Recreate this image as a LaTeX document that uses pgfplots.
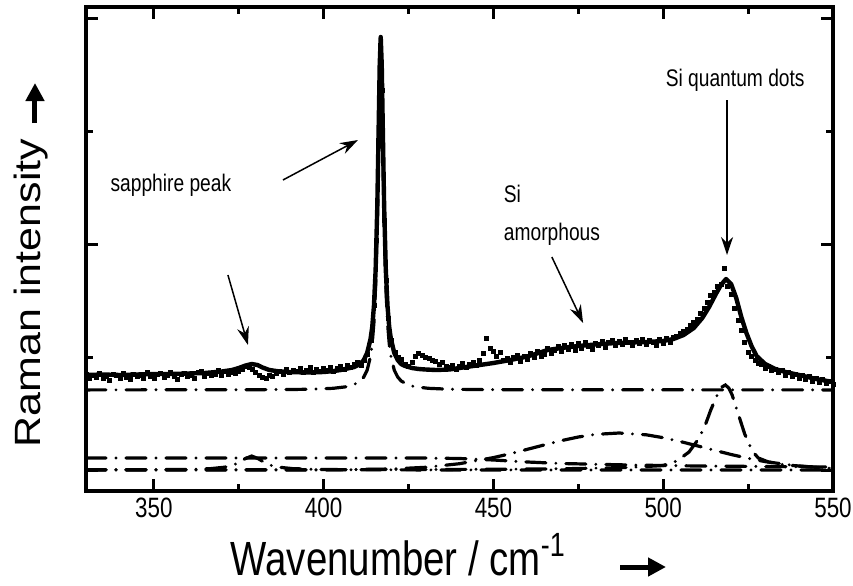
\documentclass[border=0pt]{standalone}
\usepackage{fontspec}
\setmainfont{Liberation Sans}
\newfontfamily\nsans[FakeStretch=0.8]{Liberation Sans}
\usepackage{pgfplots}
\pgfplotsset{compat=1.18}
\usetikzlibrary{arrows.meta}

\pgfplotstableread{
v y
330 96
331 92
332 95
333 93
334 97
335 92
336 94
337 90
338 96
339 95
340 92
341 97
342 93
343 91
344 96
345 94
346 95
347 92
348 98
349 94
350 92
351 96
352 97
353 93
354 95
355 98
356 94
357 91
358 96
359 97
360 94
361 95
362 92
363 98
364 99
365 94
366 97
367 95
368 96
369 100
370 95
371 99
372 96
373 98
374 97
375 99
376 101
377 104
378 103
379 101
380 98
381 95
382 93
383 92
384 95
385 94
386 97
387 99
388 96
389 101
390 98
391 100
392 99
393 102
394 98
395 100
396 103
397 98
398 101
399 99
400 102
401 100
402 103
403 99
404 102
405 104
406 101
407 105
408 103
409 106
410 108
411 105
412 110
413 116
414 130
415 165
415.6 230
416.2 330
416.7 425
417.2 380
417.8 250
418.4 190
419 152
420 130
421 118
422 113
423 111
424 106
425 104
426 108
427 114
428 117
429 115
430 113
431 112
432 110
433 109
434 106
435 108
436 104
437 103
438 105
439 101
440 104
441 107
442 103
443 106
444 108
445 105
446 110
447 117
448 132
449 122
450 119
451 114
452 118
453 110
454 112
455 108
456 113
457 115
458 109
459 114
460 111
461 117
462 113
463 119
464 114
465 116
466 122
467 117
468 120
469 124
470 119
471 125
472 121
473 126
474 120
475 127
476 122
477 128
478 124
479 121
480 127
481 125
482 129
483 123
484 128
485 130
486 125
487 129
488 126
489 131
490 128
491 125
492 130
493 127
494 131
495 126
496 130
497 128
498 125
499 131
500 127
501 132
502 128
503 133
504 134
505 137
506 139
507 141
508 145
509 148
510 151
511 157
512 162
513 168
514 175
515 178
516 184
517 186
518 202
519 184
520 176
521 162
522 150
523 140
524 128
525 118
526 114
527 110
528 107
529 106
530 102
531 104
532 100
533 101
534 98
535 100
536 95
537 98
538 94
539 96
540 92
541 95
542 91
543 94
544 89
545 92
546 88
547 91
548 87
549 89
550 86
}\datatable

\pgfplotstableread{
v y
330 95
335 95.5
340 95
345 95.5
350 96
355 96
360 96.5
365 97
370 98.5
373 100
375 102
377 104.5
378.8 106
380.5 105
382 102.5
384 100
387 98.5
390 98
395 97.5
400 98
403 99
405 100
407 101.5
409 103
410.8 106
411.8 110
412.8 117
413.8 131
414.3 143
414.8 164
415.3 200
415.8 265
416.2 344
416.5 405
416.8 433
417.1 405
417.4 344
417.8 265
418.3 200
418.8 164
419.3 143
419.8 131
420.8 117
421.8 110
422.8 106
424 104
426 102
428 101
430 100.5
433 100
437 100.5
440 102
445 104.5
450 107
455 110
460 113.5
466 120
470 122
475 124
480 125.5
486 127
490 127.5
495 128
500 129
503 131
506 135
509 142
511.5 152
513.5 163
515.5 176
517 185
518.5 191
520 186
521.5 172
523 153
524.5 137
526 124
527.5 114
530 106
533 101
536 98
540 95
545 91
550 88
}\fittable

\tikzset{dd/.style={line width=1.6pt, line cap=round, dash pattern=on 10pt off 5pt on 0pt off 5pt}}

\begin{document}
\begin{tikzpicture}
\begin{axis}[name=ax, scale only axis, width=373.5pt, height=242pt,
  xmin=330, xmax=550, ymin=-21, ymax=463,
  xtick={350,400,450,500,550}, minor xtick={375,425,475,525},
  ytick={0,226,452}, minor ytick={113,339}, yticklabels={},
  tick align=inside, major tick length=6pt, minor tick length=3.5pt,
  tick style={line width=1.5pt, black},
  axis line style={line width=2pt},
  /pgf/number format/assume math mode=true,
  /pgf/number format/1000 sep={},
  xticklabel style={font=\nsans\fontsize{14}{14}\selectfont},
  xlabel={Wavenumber / cm\textsuperscript{-1}},
  xlabel style={font=\nsans\fontsize{24}{24}\selectfont, at={(axis description cs:0.418,0)}, anchor=base, yshift=-42pt},
  ylabel={\scalebox{1}[0.85]{Raman intensity}},
  ylabel style={font=\fontsize{21.5}{21.5}\selectfont, at={(axis description cs:-0.0736,0.409)}, anchor=center},
]
\addplot[only marks, mark=square*, mark size=1pt, black] table[x=v,y=y] {\datatable};
\addplot[line width=2.2pt, black, line join=round] table[x=v,y=y] {\fittable};
% main sapphire peak component
\addplot[dd, black] coordinates {(330,80.1) (360,80.2) (380,80.3) (390,80.5) (397,80.8) (402.8,81.7) (406.8,83.3) (408.8,85.2) (410.8,89.1) (411.8,93) (412.8,99.8) (413.8,113.7) (414.3,126.5) (414.8,147.4) (415.3,183.8) (415.8,248.5) (416.2,328) (416.5,389) (416.8,417) (417.1,389) (417.4,328) (417.8,248.5) (418.3,183.8) (418.8,147.4) (419.3,126.5) (419.8,113.7) (420.8,99.8) (421.8,93) (422.8,89.1) (424.8,85.2) (426.8,83.3) (430.8,81.7) (436.8,80.8) (446.8,80.4) (470,80.2) (550,80.1)};
% broad background component
\addplot[dd, black] coordinates {(330,12) (360,12) (400,12) (430,12) (440,11.5) (450,10) (460,8) (470,6.5) (490,5) (510,4) (530,3.5) (550,3)};
% sapphire small peak component
\addplot[dd, black] coordinates {(330,0.1) (350,0.3) (360,0.6) (366.8,1.4) (370.8,2.8) (372.8,4.3) (374.8,7) (376.8,11.2) (378.8,14) (380.8,11.2) (382.8,7) (384.8,4.3) (386.8,2.8) (390.8,1.4) (397.6,0.6) (407.6,0.3) (427.6,0.1) (550,0)};
% amorphous Si component
\addplot[dd, black] coordinates {(330,0) (400,0.1) (420,1) (430,2.7) (440,6.3) (450,12.4) (455,16.3) (460,20.7) (465,25.1) (470,29.4) (475,33) (480,35.6) (487,37) (495,35.2) (500,32.3) (505,28.5) (510,24.2) (515,19.8) (520,15.5) (525,11.7) (530,8.4) (540,3.9) (550,1.5)};
% Si quantum dot component
\addplot[dd, black] coordinates {(330,0.2) (400,0.3) (450,0.7) (470,1.2) (490,2.5) (500,4.5) (504,9) (507.6,18) (510.6,32) (512.6,47) (514,60) (515.9,75) (517.3,83) (518.3,85) (519.3,82) (520.3,75) (522,57) (524,36) (526.2,19) (528,12) (531,8) (536,5) (545,2.8) (550,2.2)};

\node[font=\nsans\fontsize{12}{12}\selectfont] at (axis cs:355,285) {sapphire peak};
\node[font=\nsans\fontsize{12}{19}\selectfont, align=left, anchor=north west] at (axis cs:451,292) {Si\\amorphous};
\node[font=\nsans\fontsize{12}{12}\selectfont] at (axis cs:521.2,390) {Si quantum dots};
\draw[line width=0.75pt, -{Stealth[length=9pt,width=6pt]}] (axis cs:371.8,195) -- (axis cs:377.7,125);
\draw[line width=0.75pt, -{Stealth[length=9pt,width=6pt]}] (axis cs:388,290) -- (axis cs:410.1,330);
\draw[line width=0.75pt, -{Stealth[length=9pt,width=6pt]}] (axis cs:467.2,213) -- (axis cs:476.4,147);
\draw[line width=0.75pt, -{Stealth[length=9pt,width=6pt]}] (axis cs:518.8,370) -- (axis cs:518.8,215);
\end{axis}
\draw[line width=2.5pt, -{Triangle[length=9pt,width=9pt]}] ([shift={(-25.5pt,184pt)}]ax.south west) -- ([shift={(-25.5pt,204pt)}]ax.south west);
\draw[line width=2.5pt, -{Triangle[length=9pt,width=9pt]}] ([shift={(267pt,-38pt)}]ax.south west) -- ([shift={(290pt,-38pt)}]ax.south west);
\pgfresetboundingbox
\path[use as bounding box] ([shift={(-43pt,-47pt)}]ax.south west) rectangle ([shift={(10pt,3.5pt)}]ax.north east);
\end{tikzpicture}
\end{document}
